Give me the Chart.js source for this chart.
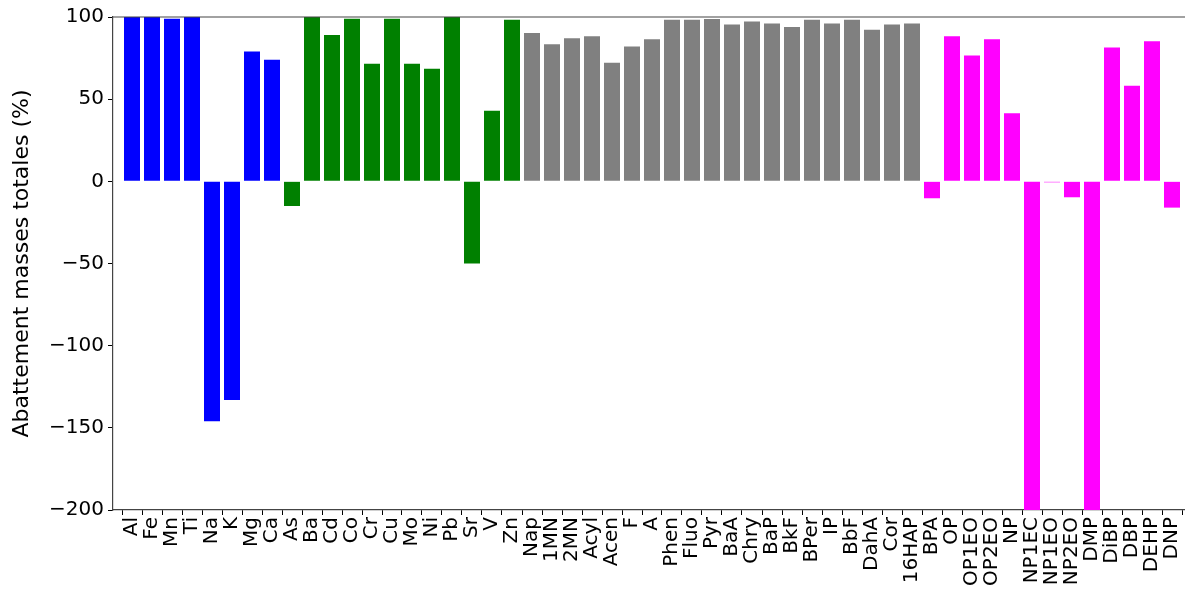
<!DOCTYPE html>
<html>
<head>
    <title>Abattement masses totales</title>
    <script src="https://cdn.jsdelivr.net/npm/chart.js"></script>
    <style>
        body {
            margin: 0;
            background: #fff;
            overflow: hidden;
        }
    </style>
</head>
<body>
    <canvas id="myChart" width="1185" height="597"></canvas>

    <script>
        // groups of compounds, one colour per group
        const metalsA = ["Al", "Fe", "Mn", "Ti", "Na", "K", "Mg", "Ca"];
        const metalsAValues = [100, 100, 99, 100, -146, -133, 79, 74];

        const metalsB = ["As", "Ba", "Cd", "Co", "Cr", "Cu", "Mo", "Ni", "Pb", "Sr", "V", "Zn"];
        const metalsBValues = [-15, 100, 89, 99, 71.5, 99, 71.5, 68.5, 100, -50, 43, 98.3];

        const hap = ["Nap", "1MN", "2MN", "Acyl", "Acen", "F", "A", "Phen", "Fluo", "Pyr",
                     "BaA", "Chry", "BaP", "BkF", "BPer", "IP", "BbF", "DahA", "Cor", "16HAP"];
        const hapValues = [90.3, 83.4, 87, 88.3, 72.2, 82, 86.4, 98.4, 98.4, 98.8,
                           95.4, 97.2, 96, 93.9, 98.4, 96, 98.4, 92.3, 95.4, 96];

        const others = ["BPA", "OP", "OP1EO", "OP2EO", "NP", "NP1EC", "NP1EO", "NP2EO",
                        "DMP", "DiBP", "DBP", "DEHP", "DNP"];
        const othersValues = [-10.3, 88.3, 76.5, 86.4, 41.4, -200, -0.6, -9.7,
                              -200, 81.4, 58.2, 85.2, -16];

        const groupColors = ['#0000ff', '#008000', '#808080', '#ff00ff'];

        const labels = [...metalsA, ...metalsB, ...hap, ...others];
        const values = [...metalsAValues, ...metalsBValues, ...hapValues, ...othersValues];
        const colors = [
            ...metalsA.map(() => groupColors[0]),
            ...metalsB.map(() => groupColors[1]),
            ...hap.map(() => groupColors[2]),
            ...others.map(() => groupColors[3])
        ];

        const data = values.map((v, i) => ({ x: i, y: v }));

        // matplotlib style frame: top spine over the plot
        const framePlugin = {
            id: 'frame',
            afterDraw(chart) {
                const { ctx, chartArea } = chart;
                ctx.save();
                ctx.strokeStyle = '#444';
                ctx.lineWidth = 1.2;
                ctx.beginPath();
                ctx.moveTo(chartArea.left, chartArea.top);
                ctx.lineTo(chartArea.right, chartArea.top);
                ctx.stroke();
                ctx.restore();
            }
        };

        const tickFont = { family: 'DejaVu Sans', size: 20 };

        new Chart(document.getElementById('myChart'), {
            type: 'bar',
            data: {
                datasets: [{
                    data: data,
                    backgroundColor: colors,
                    borderWidth: 0,
                    barPercentage: 0.8,
                    categoryPercentage: 1
                }]
            },
            options: {
                responsive: false,
                animation: false,
                layout: {
                    padding: { left: 0, right: 0, top: 17, bottom: 0 }
                },
                scales: {
                    x: {
                        type: 'linear',
                        min: -0.95,
                        max: 52.65,
                        offset: false,
                        afterBuildTicks: (axis) => {
                            axis.ticks = labels.map((_, i) => ({ value: i }));
                        },
                        afterFit: (axis) => {
                            axis.height = 87;
                            axis.paddingLeft = 0;
                            axis.paddingRight = 0;
                        },
                        grid: {
                            drawOnChartArea: false,
                            drawTicks: true,
                            tickLength: 5,
                            tickColor: '#000'
                        },
                        border: { display: true, color: '#444', width: 1.2 },
                        ticks: {
                            autoSkip: false,
                            minRotation: 90,
                            maxRotation: 90,
                            padding: 2,
                            color: '#000',
                            font: tickFont,
                            callback: (value) => labels[value]
                        }
                    },
                    y: {
                        min: -200,
                        max: 100,
                        afterFit: (axis) => {
                            axis.width = 113;
                            axis.paddingTop = 0;
                            axis.paddingBottom = 0;
                        },
                        grid: {
                            drawOnChartArea: false,
                            drawTicks: true,
                            tickLength: 5,
                            tickColor: '#000'
                        },
                        border: { display: true, color: '#444', width: 1.2 },
                        ticks: {
                            stepSize: 50,
                            padding: 4,
                            color: '#000',
                            font: tickFont,
                            callback: (value) => String(value).replace('-', '\u2212')
                        },
                        title: {
                            display: true,
                            text: 'Abattement masses totales (%)',
                            color: '#000',
                            font: { family: 'DejaVu Sans', size: 22 },
                            padding: { top: 9, bottom: 0 }
                        }
                    }
                },
                plugins: {
                    legend: { display: false },
                    tooltip: { enabled: false }
                }
            },
            plugins: [framePlugin]
        });
    </script>
</body>
</html>
